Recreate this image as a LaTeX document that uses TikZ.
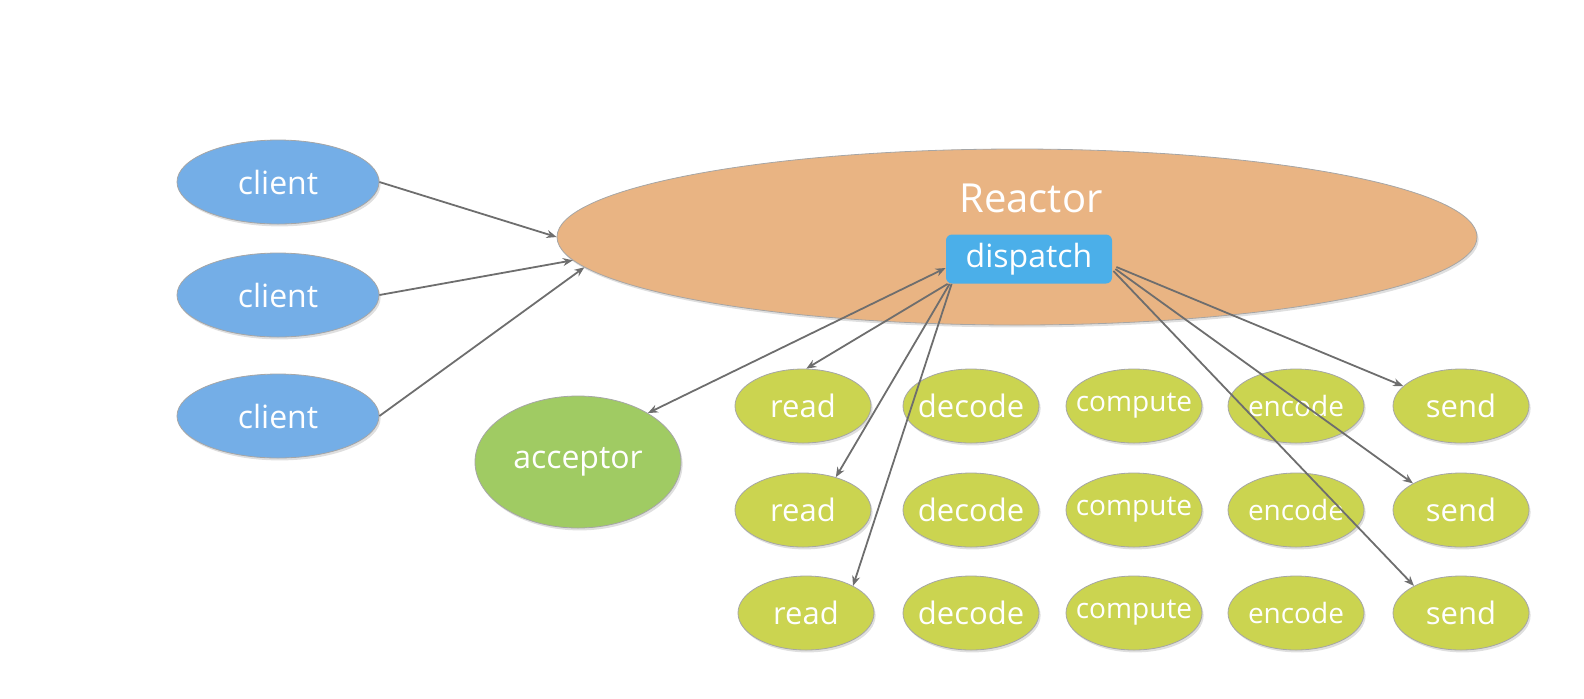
\documentclass[tikz,border=0pt]{standalone}
\usepackage{fontspec}
\setmainfont{Open Sans}
\usetikzlibrary{shapes.geometric,shadows,arrows.meta}

\definecolor{clientblue}{HTML}{74AEE7}
\definecolor{reactororange}{HTML}{E9B483}
\definecolor{dispatchblue}{HTML}{4BAFE9}
\definecolor{acceptorgreen}{HTML}{A0CB63}
\definecolor{taskgreen}{HTML}{CBD450}
\definecolor{linegray}{HTML}{6E6E6E}

\begin{document}
\begin{tikzpicture}[x=0.5pt, y=-0.5pt,
  main node/.style={draw=gray!70, line width=0.4pt, ellipse, inner sep=0pt, text=white,
    drop shadow={opacity=0.25, shadow xshift=0.8pt, shadow yshift=-1.2pt}},
  client node/.style={main node, fill=clientblue, minimum width=101pt, minimum height=42pt,
    font=\fontsize{16}{19}\selectfont},
  task node/.style={main node, fill=taskgreen, minimum width=68pt, minimum height=37pt,
    inner xsep=-6pt, font=\fontsize{15.5}{18}\selectfont},
  narrow/.style={font=\fontsize{14}{18}\selectfont},
  link/.style={draw=linegray, line width=0.9pt, -{Stealth[length=5pt,width=4pt]}},
  both/.style={link, {Stealth[length=5pt,width=4pt]}-{Stealth[length=5pt,width=4pt]}}]
\useasboundingbox (0,0) rectangle (1584,698);

\node[client node] (c1) at (278,182) {client};
\node[client node] (c2) at (278,295) {client};
\node[client node] (c3) at (278,416) {client};

\node[main node, fill=reactororange, minimum width=460pt, minimum height=88pt] (reactor) at (1017,237) {};
\node[text=white, font=\fontsize{20}{24}\selectfont] (reactortext) at (1031,198) {Reactor};
\node[fill=dispatchblue, rounded corners=3pt, text=white, minimum width=83pt, minimum height=24.5pt,
  inner sep=0pt, font=\fontsize{16}{19}\selectfont] (dispatch) at (1029,259) {dispatch};

\node[main node, fill=acceptorgreen, minimum width=103pt, minimum height=66pt,
  font=\fontsize{16}{19}\selectfont] (acceptor) at (578,462) {acceptor};

\node[task node] (read1) at (803,406) {read};
\node[task node] (decode1) at (971,406) {decode};
\node[task node, narrow] (compute1) at (1134,406) {compute};
\node[task node, narrow] (encode1) at (1296,406) {encode};
\node[task node] (send1) at (1461,406) {send};

\node[task node] (read2) at (803,510) {read};
\node[task node] (decode2) at (971,510) {decode};
\node[task node, narrow] (compute2) at (1134,510) {compute};
\node[task node, narrow] (encode2) at (1296,510) {encode};
\node[task node] (send2) at (1461,510) {send};

\node[task node] (read3) at (806,613) {read};
\node[task node] (decode3) at (971,613) {decode};
\node[task node, narrow] (compute3) at (1134,613) {compute};
\node[task node, narrow] (encode3) at (1296,613) {encode};
\node[task node] (send3) at (1461,613) {send};

\path
(c1.east) edge[link] (reactor.west)
(c2.east) edge[link] (reactor.183)
(c3.east) edge[link] (reactor.184);

\path
([yshift=-4.5pt]dispatch.west) edge[both] (acceptor.35)
([xshift=1pt]dispatch.south west) edge[link] (read1.85)
([xshift=2pt]dispatch.south west) edge[link] (read2.45)
([xshift=3pt]dispatch.south west) edge[link] (read3.30)
([xshift=2pt,yshift=-4pt]dispatch.east) edge[link] (send1.161)
([xshift=1.5pt,yshift=-5pt]dispatch.east) edge[link] (send2.151)
([xshift=0.5pt,yshift=-6pt]dispatch.east) edge[link] (send3.150);
\end{tikzpicture}
\end{document}
